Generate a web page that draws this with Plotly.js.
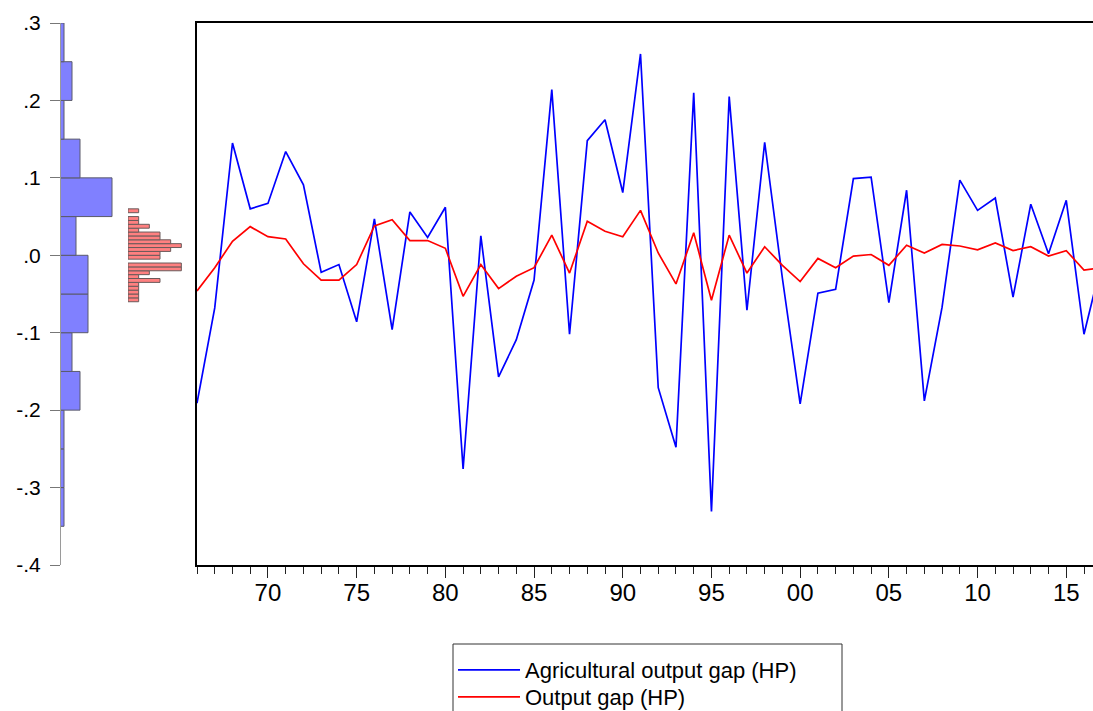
<!DOCTYPE html>
<html>
<head>
<meta charset="utf-8">
<script src="https://cdn.plot.ly/plotly-3.0.1.min.js"></script>
<style>
  html, body { margin: 0; padding: 0; background: #fff; overflow: hidden; }
  #chart { width: 1093px; height: 711px; }
</style>
</head>
<body>
<div id="chart"></div>
<script>
// ---- Data ----
const years = [1966,1967,1968,1969,1970,1971,1972,1973,1974,1975,
               1976,1977,1978,1979,1980,1981,1982,1983,1984,1985,
               1986,1987,1988,1989,1990,1991,1992,1993,1994,1995,
               1996,1997,1998,1999,2000,2001,2002,2003,2004,2005,
               2006,2007,2008,2009,2010,2011,2012,2013,2014,2015,
               2016,2017];

const agriGap = [-0.191,-0.068, 0.145, 0.060, 0.067, 0.134, 0.091,-0.022,-0.012,-0.086,
                  0.047,-0.096, 0.056, 0.023, 0.062,-0.276, 0.025,-0.157,-0.109,-0.032,
                  0.214,-0.102, 0.148, 0.175, 0.081, 0.260,-0.171,-0.248, 0.210,-0.331,
                  0.205,-0.071, 0.146,-0.030,-0.192,-0.049,-0.044, 0.099, 0.101,-0.061,
                  0.084,-0.188,-0.067, 0.097, 0.058, 0.074,-0.054, 0.066, 0.002, 0.071,
                 -0.102,-0.008];

const outputGap = [-0.046,-0.016, 0.018, 0.037, 0.024, 0.021,-0.011,-0.032,-0.032,-0.012,
                    0.038, 0.046, 0.019, 0.019, 0.009,-0.053,-0.012,-0.043,-0.027,-0.016,
                    0.026,-0.023, 0.044, 0.031, 0.024, 0.058, 0.003,-0.037, 0.029,-0.058,
                    0.026,-0.023, 0.011,-0.013,-0.034,-0.004,-0.016,-0.001, 0.001,-0.013,
                    0.013, 0.003, 0.014, 0.012, 0.007, 0.016, 0.006, 0.011,-0.001, 0.006,
                   -0.019,-0.016];

const seriesNames = ["Agricultural output gap (HP)", "Output gap (HP)"];

const yTickVals = [-0.4,-0.3,-0.2,-0.1,0,0.1,0.2,0.3];
const yTickText = ["-.4","-.3","-.2","-.1",".0",".1",".2",".3"];
const xTickVals = [1970,1975,1980,1985,1990,1995,2000,2005,2010,2015];
const xTickText = ["70","75","80","85","90","95","00","05","10","15"];

// ---- Layout geometry ----
const W = 1093, H = 711;
const TOP = 23, BOTTOM = 565;
const PH = BOTTOM - TOP;
const py = p => (BOTTOM - p) / PH;   // pixel row -> paper y
const FONT = "Liberation Sans, Arial, sans-serif";

const traces = [
  {
    type: "scatter", mode: "lines", name: seriesNames[0],
    x: years, y: agriGap, xaxis: "x", yaxis: "y2", legend: "legend",
    line: { color: "#0000ff", width: 1.7 }
  },
  {
    type: "scatter", mode: "lines", name: seriesNames[1],
    x: years, y: outputGap, xaxis: "x", yaxis: "y2", legend: "legend2",
    line: { color: "#ff0000", width: 1.7 }
  },
  {
    type: "histogram", y: agriGap, orientation: "h",
    xaxis: "x2", yaxis: "y", showlegend: false,
    ybins: { start: -0.35, end: 0.3, size: 0.05 },
    marker: { color: "#8080ff", line: { color: "#5a5a6a", width: 1 } }
  },
  {
    type: "histogram", y: outputGap, orientation: "h",
    xaxis: "x3", yaxis: "y", showlegend: false,
    ybins: { start: -0.06, end: 0.06, size: 0.005 },
    marker: { color: "#ff8080", line: { color: "#6a5a5a", width: 1 } }
  }
];

const hiddenX = {
  showline: false, showgrid: false, zeroline: false,
  showticklabels: false, ticks: "", fixedrange: true
};

const legendBase = {
  x: 453 / W, xanchor: "left", yanchor: "middle",
  bgcolor: "rgba(0,0,0,0)", borderwidth: 0,
  font: { family: FONT, size: 22, color: "#000" },
  itemwidth: 62, tracegroupgap: 0
};

const layout = {
  width: W, height: H,
  margin: { l: 0, r: 0, t: TOP, b: H - BOTTOM, pad: 0, autoexpand: false },
  paper_bgcolor: "#ffffff", plot_bgcolor: "rgba(0,0,0,0)",
  font: { family: FONT, color: "#000" },
  bargap: 0,
  showlegend: true,
  xaxis: {
    domain: [197 / W, 1], anchor: "y2",
    range: [1966, 1966 + (W - 197) / 17.74],
    showline: true, linecolor: "#000", linewidth: 2, mirror: true,
    showgrid: false, zeroline: false,
    tickmode: "array", tickvals: xTickVals, ticktext: xTickText,
    ticks: "outside", ticklen: 11, tickwidth: 1, tickcolor: "#222",
    minor: { tickmode: "linear", tick0: 1966, dtick: 1, ticks: "outside",
             ticklen: 7, tickwidth: 1, tickcolor: "#222", showgrid: false },
    tickfont: { family: FONT, size: 24, color: "#000" },
    ticklabelstandoff: -6,
    fixedrange: true,
    automargin: false
  },
  yaxis2: {
    anchor: "x", range: [-0.4, 0.3],
    showline: true, linecolor: "#000", linewidth: 2, mirror: false,
    showgrid: false, zeroline: false, showticklabels: false, ticks: "",
    fixedrange: true
  },
  yaxis: {
    anchor: "free", position: 60 / W, side: "left",
    range: [-0.4, 0.3],
    showline: true, linecolor: "#9a9a9a", linewidth: 1,
    showgrid: false, zeroline: false,
    tickmode: "array", tickvals: yTickVals, ticktext: yTickText,
    ticks: "outside", ticklen: 10, tickwidth: 1, tickcolor: "#777",
    tickfont: { family: FONT, size: 21, color: "#000" },
    ticklabelstandoff: 5,
    fixedrange: true,
    automargin: false
  },
  xaxis2: Object.assign({ domain: [60 / W, 120 / W], anchor: "y", range: [0, 15] }, hiddenX),
  xaxis3: Object.assign({ domain: [128 / W, 192 / W], anchor: "y", range: [0, 6] }, hiddenX),
  legend: Object.assign({ y: py(670) }, legendBase),
  legend2: Object.assign({ y: py(697) }, legendBase),
  shapes: [
    { type: "rect", xref: "paper", yref: "paper",
      x0: 453 / W, x1: 842 / W, y0: py(644), y1: py(730),
      line: { color: "#333", width: 1 }, fillcolor: "rgba(0,0,0,0)", layer: "below" }
  ]
};

Plotly.newPlot("chart", traces, layout, { displayModeBar: false, staticPlot: true });
</script>
</body>
</html>
